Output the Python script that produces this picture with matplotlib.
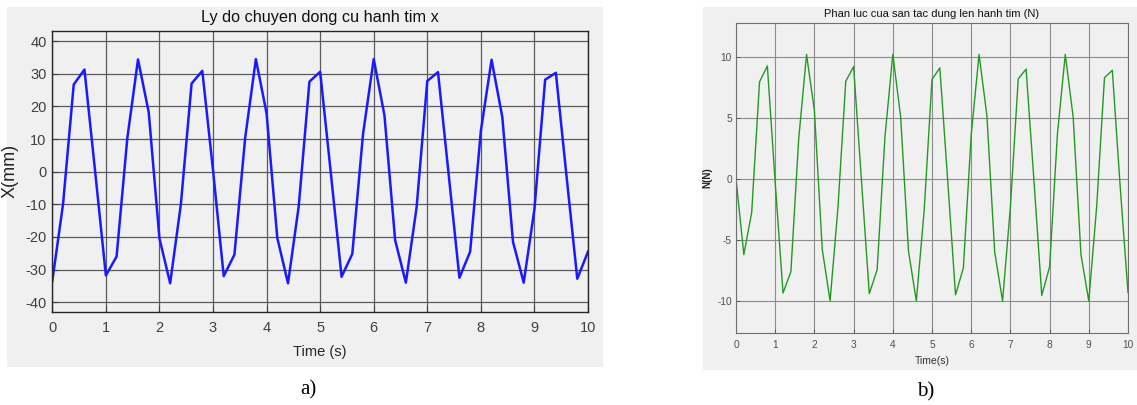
"""Two panel plot: displacement x(t) and ground reaction N(t)."""

import numpy as np
import matplotlib
matplotlib.use("Agg")
import matplotlib.pyplot as plt
from matplotlib.patches import Rectangle

# --- data (sampled every 0.2 s) ---
time_s = np.linspace(0, 10, 51)

x_mm = [-33.5, -10, 26.7, 31.3, 0, -31.8, -26, 10.2, 34.4, 18.2,
        -20.4, -34.2, -10, 27, 30.9, 0.5, -32, -25.4, 10.3, 34.5,
        17.9, -20.3, -34.2, -10.6, 27.6, 30.6, -0.5, -32.2, -25.2, 11.5,
        34.5, 17.3, -21, -34, -11, 27.8, 30.5, -1, -32.5, -24.5,
        12.5, 34.3, 16.8, -21.5, -34, -11.5, 28.2, 30.3, -1.5, -32.8,
        -24.5]

n_force = [0, -6.2, -2.75, 7.95, 9.25, -0.3, -9.35, -7.6, 3.3, 10.2,
           5.6, -5.75, -10.0, -2.4, 8.0, 9.2, -0.1, -9.4, -7.45, 3.45,
           10.2, 5.1, -5.9, -10.0, -2.6, 8.15, 9.1, -0.1, -9.5, -7.3,
           3.6, 10.2, 5.2, -6.0, -10.0, -2.3, 8.2, 9.0, -0.1, -9.55,
           -7.2, 3.7, 10.2, 5.1, -6.2, -10.0, -2.3, 8.3, 8.9, -0.6,
           -9.3]

x_ticks = list(range(0, 11))
left_yticks = [-40, -30, -20, -10, 0, 10, 20, 30, 40]
right_yticks = [-10, -5, 0, 5, 10]

W, H = 1137, 405
BG = "#f0f0f0"
plt.rcParams["font.family"] = ["Liberation Sans", "DejaVu Sans"]
plt.rcParams["axes.unicode_minus"] = False

fig = plt.figure(figsize=(W / 100, H / 100), dpi=100)


def px_rect(x0, y0, x1, y1):
    """Pixel box (top-left origin) -> figure fraction [l, b, w, h]."""
    return [x0 / W, 1 - y1 / H, (x1 - x0) / W, (y1 - y0) / H]


# gray figure panels
for box in [(7, 7, 603, 367), (703, 7, 1137, 370)]:
    l, b, w, h = px_rect(*box)
    fig.add_artist(Rectangle((l, b), w, h, transform=fig.transFigure,
                             facecolor=BG, edgecolor="none", zorder=0))

# --- left panel ---
ax1 = fig.add_axes(px_rect(52.3, 30.7, 588, 311.7))
ax1.set_facecolor(BG)
ax1.plot(time_s, x_mm, color="#1a1aff", lw=1.8)
ax1.set_xlim(0, 10)
ax1.set_ylim(-42.9, 43.2)
ax1.set_xticks(x_ticks)
ax1.set_yticks(left_yticks)
ax1.grid(True, color="#5a5a5a", lw=0.9)
ax1.tick_params(direction="in", colors="#404040", labelsize=10.5, length=4,
                width=0.8)
ax1.tick_params(axis="x", pad=7)
ax1.tick_params(axis="y", pad=4)
for s in ax1.spines.values():
    s.set_color("#262626")
    s.set_linewidth(1.0)
ax1.set_title("Ly do chuyen dong cu hanh tim x", fontsize=11.7, color="#111111",
              pad=6)
ax1.set_xlabel("Time (s)", fontsize=10.5, color="#262626")
ax1.set_ylabel("X(mm)", fontsize=13, color="#262626")
ax1.xaxis.set_label_coords(0.5, -0.12)
ax1.yaxis.set_label_coords(-0.062, 0.5)

# --- right panel ---
ax2 = fig.add_axes(px_rect(736, 22.7, 1128, 332.7))
ax2.set_facecolor(BG)
ax2.plot(time_s, n_force, color="#229a22", lw=1.0)
ax2.set_xlim(0, 10)
ax2.set_ylim(-12.6, 12.8)
ax2.set_xticks(x_ticks)
ax2.set_yticks(right_yticks)
ax2.grid(True, color="#8c8c8c", lw=0.8)
ax2.tick_params(direction="in", colors="#505050", labelsize=7.3, length=3,
                width=0.6)
ax2.tick_params(axis="x", pad=5)
ax2.tick_params(axis="y", pad=3)
for s in ax2.spines.values():
    s.set_color("#707070")
    s.set_linewidth(0.8)
ax2.set_title("Phan luc cua san tac dung len hanh tim (N)", fontsize=8,
              color="#111111", pad=4)
ax2.set_xlabel("Time(s)", fontsize=7.5, color="#333333")
ax2.set_ylabel("N(N)", fontsize=7, color="#222222", fontweight="bold")
ax2.xaxis.set_label_coords(0.5, -0.075)
ax2.yaxis.set_label_coords(-0.061, 0.5)

# panel captions
fig.text(308 / W, 1 - 390 / H, "a)", family="Liberation Serif", fontsize=15,
         ha="center", va="center")
fig.text(926 / W, 1 - 392 / H, "b)", family="Liberation Serif", fontsize=15,
         ha="center", va="center")

fig.savefig("out.png", dpi=100, facecolor="white")
